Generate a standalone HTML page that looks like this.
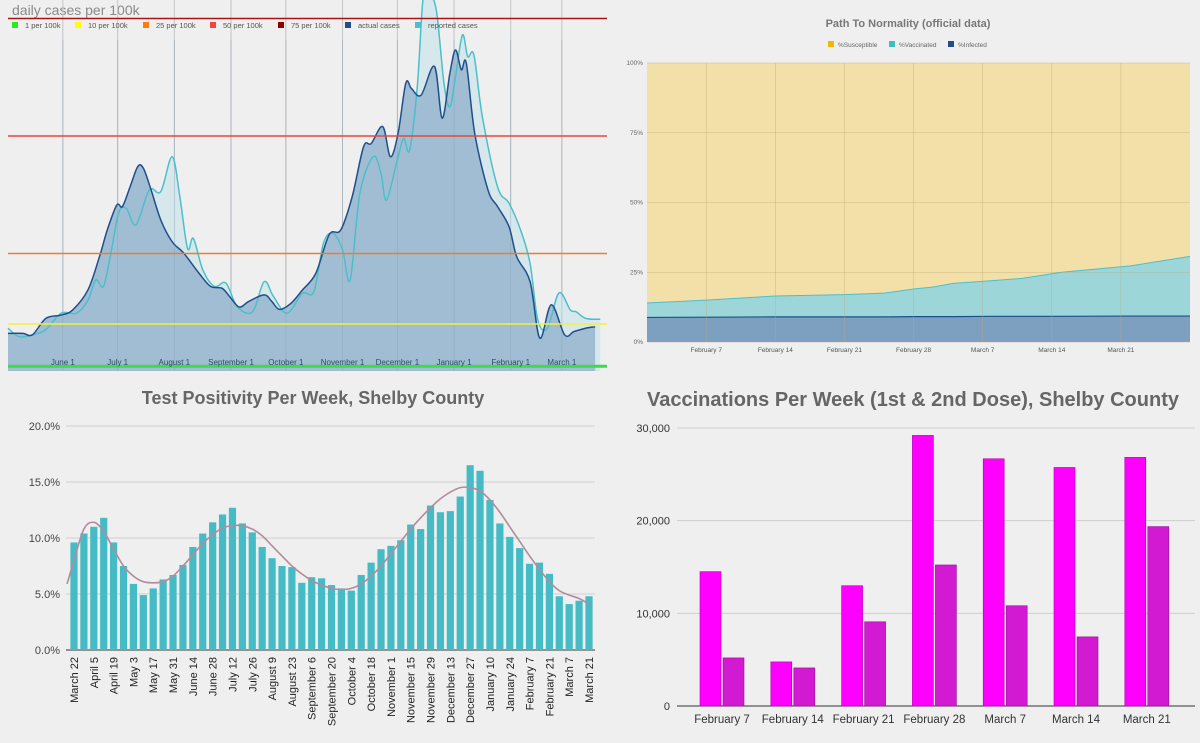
<!DOCTYPE html>
<html><head><meta charset="utf-8"><style>
html,body{margin:0;padding:0;background:#efefef;}
svg{display:block;font-family:"Liberation Sans",Arial,sans-serif;}
</style></head><body>
<svg id="svg" width="1200" height="743" viewBox="0 0 1200 743" xmlns="http://www.w3.org/2000/svg">
<rect x="0" y="0" width="1200" height="743" fill="#efefef"/>
<g id="tl"></g>
<g id="tr"></g>
<g id="bl"></g>
<g id="br"></g>
</svg>
<script>
// ---------- Top-left data ----------
const actualDays = [0,8.2,13.4,20.7,29.1,35.4,43.8,50.1,54.3,59.5,62.6,66.8,71,74.1,78.3,83.6,89.8,96.1,104.5,110.8,117.1,121.3,126.5,131.7,140.1,144.3,148.5,154.8,161,168.4,175.7,182,188.3,194.5,198.7,205,209.2,213.4,217.6,220.7,226,233.3,237.5,241.7,244.8,248,250.7,255.3,262.6,267.8,274.1,278.3,285.6,290.9,297.2,304.5,309.7,316,321.2];
const actualVals = [8,8,7.7,11.2,11.9,13,17.3,24.4,30,35.3,35,39.2,43.5,43.1,38.5,32.1,27.5,25.1,20.8,18,17.6,15.8,13.6,14.8,16.2,14.8,13.1,14.4,17.2,20.8,29,30,37.1,47.7,48.4,52,45.6,50.6,61.2,60.1,58.7,64.8,53.8,63.3,68.3,64.1,65.5,50.6,38.5,35,30.7,24.3,19,7,14.1,7.7,8.4,9.1,9.4];
const reportedDays = [0,6.1,13.4,20.7,29.1,37.5,43.8,48,52.2,56.3,60.5,64.7,70,77.3,83.6,89.8,94,98.2,101.4,106.6,112.9,119.2,125.4,133.8,140.1,145.3,152.7,161,167.3,172.6,177.8,183,187.2,192.5,199.8,204,207.1,213.4,216.5,219.7,223.9,227,230.1,234.3,238.5,241.7,244.8,248.6,251.5,254.9,259.5,267.8,274.1,280.4,285.6,289.8,295.1,301.4,307.6,310.8,316,324];
const reportedVals = [9.1,7.3,7.7,8.8,12.3,12.3,15.1,19.4,18,25.1,33.6,34.6,31.1,38.5,38.2,45.6,37.1,26.1,28.2,21.5,18,18.7,13.7,12.6,19,15.8,12.3,16.5,16.9,27.2,29.3,25.8,19.4,37.8,45.6,42.1,36.4,45.6,49.5,47,60.5,79,80,76.8,61.2,56.2,62.6,71.5,66.9,67.2,54.1,39.2,35.7,30,22.9,10.9,9.1,16.6,13,12.6,11.2,11];
const monthLabels = ["June 1","July 1","August 1","September 1","October 1","November 1","December 1","January 1","February 1","March 1"];
const monthDays = [30,60,91,122,152,183,213,244,275,303];
const thresholdVals = [1,10,25,50,75];
const thresholdColors = ["#3ddc4a","#f2f23a","#f47a2a","#e8463c","#a31515"];
const legendLabels = ["1 per 100k","10 per 100k","25 per 100k","50 per 100k","75 per 100k","actual cases","reported cases"];
const legendColors = ["#22ee22","#ffff00","#ff7b0f","#f0463c","#8b0000","#1f4f8a","#4cbfc9"];

// ---------- Top-right data ----------
const pathDays = [0,6,13,20,24,27,29,31,35,38,42,49,55];
const infectedPct = [8.8,8.9,9.0,9.0,9.0,9.1,9.1,9.1,9.2,9.2,9.2,9.3,9.3];
const vaccinatedPct = [5.2,6.1,7.5,8.0,8.5,9.9,10.6,11.9,12.8,13.6,15.8,18.0,21.4];
const pathTicks = ["0%","25%","50%","75%","100%"];
const pathTickVals = [0,25,50,75,100];
const pathWeekLabels = ["February 7","February 14","February 21","February 28","March 7","March 14","March 21"];
const pathWeekDays = [6,13,20,27,34,41,48];

// ---------- Bottom-left data ----------
const positivity = [9.6,10.4,11.0,11.8,9.6,7.5,5.9,4.9,5.5,6.3,6.7,7.6,9.2,10.4,11.4,12.1,12.7,11.3,10.5,9.2,8.2,7.5,7.4,6.0,6.5,6.4,5.8,5.5,5.3,6.7,7.8,9.0,9.3,9.8,11.2,10.8,12.9,12.3,12.4,13.7,16.5,16.0,13.4,11.3,10.1,9.1,7.7,7.8,6.8,4.8,4.1,4.4,4.8];
const positivityTrend = [8.0,10.8,11.4,10.6,9.0,7.5,6.6,6.1,6.0,6.1,6.6,7.5,8.5,9.5,10.3,10.9,11.1,11.1,10.8,10.2,9.3,8.4,7.5,6.8,6.2,5.8,5.5,5.4,5.5,5.9,6.6,7.5,8.6,9.7,10.8,11.8,12.7,13.5,14.1,14.5,14.5,14.2,13.4,12.3,11.0,9.7,8.4,7.2,6.1,5.3,4.9,4.6,4.1];
const weekLabels = ["March 22","April 5","April 19","May 3","May 17","May 31","June 14","June 28","July 12","July 26","August 9","August 23","September 6","September 20","October 4","October 18","November 1","November 15","November 29","December 13","December 27","January 10","January 24","February 7","February 21","March 7","March 21"];
const posTicks = ["0.0%","5.0%","10.0%","15.0%","20.0%"];
const posTickVals = [0,5,10,15,20];

// ---------- Bottom-right data ----------
const vaxWeeks = ["February 7","February 14","February 21","February 28","March 7","March 14","March 21"];
const dose1 = [14500,4760,12980,29200,26680,25740,26830];
const dose2 = [5190,4110,9090,15220,10820,7460,19360];
const vaxTicks = ["0","10,000","20,000","30,000"];
const vaxTickVals = [0,10000,20000,30000];

const NS = "http://www.w3.org/2000/svg";
function mk(parent, tag, attrs, text){
  const e = document.createElementNS(NS, tag);
  for (const k in attrs) e.setAttribute(k, attrs[k]);
  if (text !== undefined) e.textContent = text;
  parent.appendChild(e);
  return e;
}
function smooth(pts){
  let d = "M"+pts[0][0].toFixed(2)+","+pts[0][1].toFixed(2);
  for (let i=0;i<pts.length-1;i++){
    const p0=pts[Math.max(0,i-1)],p1=pts[i],p2=pts[i+1],p3=pts[Math.min(pts.length-1,i+2)];
    const c1=[p1[0]+(p2[0]-p0[0])/6,p1[1]+(p2[1]-p0[1])/6];
    const c2=[p2[0]-(p3[0]-p1[0])/6,p2[1]-(p3[1]-p1[1])/6];
    d+=" C"+c1[0].toFixed(2)+","+c1[1].toFixed(2)+" "+c2[0].toFixed(2)+","+c2[1].toFixed(2)+" "+p2[0].toFixed(2)+","+p2[1].toFixed(2);
  }
  return d;
}

// ===== Top-left chart =====
(function(){
  const g = document.getElementById('tl');
  const x = d => 8 + d*1.828;
  const y = v => 371 - v*4.7;
  const t = mk(g,'text',{x:12,y:15,'font-size':14,fill:'#8a8a8a'},"daily cases per 100k");
  
  
  for (let i=0;i<monthDays.length;i++){
    const l = mk(g,'line',{x1:x(monthDays[i]),x2:x(monthDays[i]),y1:0,y2:371,stroke:'#c4c4c4','stroke-width':1});
    
    
  }
  const rp = reportedDays.map((d,i)=>[x(d),y(reportedVals[i])]);
  const ap = actualDays.map((d,i)=>[x(d),y(actualVals[i])]);
  const rl = smooth(rp);
  const rf = mk(g,'path',{d:rl+" L"+rp[rp.length-1][0]+","+y(0)+" L"+rp[0][0]+","+y(0)+" Z",fill:'#d6e8eb'});
  
  
  const al = smooth(ap);
  const af = mk(g,'path',{d:al+" L"+ap[ap.length-1][0]+","+y(0)+" L"+ap[0][0]+","+y(0)+" Z",fill:'#a1bdd3'});
  
  
  for (let i=0;i<monthDays.length;i++){
    const l = mk(g,'line',{x1:x(monthDays[i]),x2:x(monthDays[i]),y1:40,y2:371,stroke:'#8fa6b8','stroke-width':0.8,opacity:0.6});
    
    
  }
  const rline = mk(g,'path',{d:rl,fill:'none',stroke:'#4cbfc9','stroke-width':1.5});
  
  
  const aline = mk(g,'path',{d:al,fill:'none',stroke:'#1f4f8a','stroke-width':1.5});
  
  
  for (let i=0;i<thresholdVals.length;i++){
    const l = mk(g,'line',{x1:8,x2:607,y1:y(thresholdVals[i]),y2:y(thresholdVals[i]),stroke:thresholdColors[i],'stroke-width':i===0?3:1.6});
    
    
  }
  for (let i=0;i<monthDays.length;i++){
    const tx = mk(g,'text',{x:x(monthDays[i]),y:365,'font-size':8,fill:'#2f4a66','text-anchor':'middle'},monthLabels[i]);
    
    
  }
  const lx = [12,75,143,210,278,345,415];
  for (let i=0;i<legendLabels.length;i++){
    const r = mk(g,'rect',{x:lx[i],y:22,width:6,height:6,fill:legendColors[i]});
    
    
    const tx = mk(g,'text',{x:lx[i]+13,y:28,'font-size':7.5,fill:'#555'},legendLabels[i]);
    
    
  }
})();

// ===== Top-right chart =====
(function(){
  const g = document.getElementById('tr');
  const x = d => 647 + d*(543/55);
  const y = v => 342 - v*2.79;
  const tt = mk(g,'text',{x:908,y:27,'font-size':11,'font-weight':'bold',fill:'#777','text-anchor':'middle'},"Path To Normality (official data)");
  
  
  const lg = [["%Susceptible","#f2b600",828],["%Vaccinated","#3fbdc5",889],["%Infected","#1f4f8a",948]];
  for (const L of lg){
    const r = mk(g,'rect',{x:L[2],y:41,width:6,height:6,fill:L[1]});
    
    
    const tx = mk(g,'text',{x:L[2]+10,y:47,'font-size':6.5,fill:'#666'},L[0]);
    
    
  }
  const bg = mk(g,'rect',{x:x(0),y:y(100),width:x(55)-x(0),height:y(0)-y(100),fill:'#f3dfa8'});
  
  
  const totals = pathDays.map((d,i)=>[x(d),y(infectedPct[i]+vaccinatedPct[i])]);
  const infs = pathDays.map((d,i)=>[x(d),y(infectedPct[i])]);
  const lin = p => p.map((q,i)=>(i?"L":"M")+q[0].toFixed(2)+","+q[1].toFixed(2)).join(" ");
  const va = mk(g,'path',{d:lin(totals)+" L"+x(55)+","+y(0)+" L"+x(0)+","+y(0)+" Z",fill:'#9dd6d8'});
  
  
  const vl = mk(g,'path',{d:lin(totals),fill:'none',stroke:'#4cbfc9','stroke-width':1});
  
  
  const ia = mk(g,'path',{d:lin(infs)+" L"+x(55)+","+y(0)+" L"+x(0)+","+y(0)+" Z",fill:'#7da0c1'});
  
  
  const il = mk(g,'path',{d:lin(infs),fill:'none',stroke:'#1f4f8a','stroke-width':1.2});
  
  
  for (let i=0;i<pathTickVals.length;i++){
    const l = mk(g,'line',{x1:x(0),x2:x(55),y1:y(pathTickVals[i]),y2:y(pathTickVals[i]),stroke:'#b9a97e','stroke-width':0.6,opacity:0.7});
    
    
    const tx = mk(g,'text',{x:643,y:y(pathTickVals[i])+2,'font-size':6.5,fill:'#666','text-anchor':'end'},pathTicks[i]);
    
    
  }
  for (let i=0;i<pathWeekDays.length;i++){
    const l = mk(g,'line',{x1:x(pathWeekDays[i]),x2:x(pathWeekDays[i]),y1:y(100),y2:y(0),stroke:'#b9a97e','stroke-width':0.6,opacity:0.6});
    
    
    const tx = mk(g,'text',{x:x(pathWeekDays[i]),y:352,'font-size':6.5,fill:'#555','text-anchor':'middle'},pathWeekLabels[i]);
    
    
  }
})();

// ===== Bottom-left chart =====
(function(){
  const g = document.getElementById('bl');
  const x = i => 74 + i*(515/52);
  const y = v => 650 - v*11.2;
  const tt = mk(g,'text',{x:313,y:404,'font-size':18,'font-weight':'bold',fill:'#666','text-anchor':'middle'},"Test Positivity Per Week, Shelby County");
  
  
  for (let i=0;i<posTickVals.length;i++){
    const l = mk(g,'line',{x1:66,x2:595,y1:y(posTickVals[i]),y2:y(posTickVals[i]),stroke:i===0?'#333':'#cfcfcf','stroke-width':1});
    
    
    const tx = mk(g,'text',{x:60,y:y(posTickVals[i])+4,'font-size':11,fill:'#444','text-anchor':'end'},posTicks[i]);
    
    
  }
  for (let i=0;i<positivity.length;i++){
    const r = mk(g,'rect',{x:x(i)-3.6,y:y(positivity[i]),width:7.2,height:y(0)-y(positivity[i]),fill:'#45bcc5'});
    
    
  }
  const tp = positivityTrend.map((v,i)=>[x(i),y(v)]);
  tp.unshift([x(-0.7),y(5.9)]);
  const tl = mk(g,'path',{d:smooth(tp),fill:'none',stroke:'#b28b9d','stroke-width':1.6});
  
  
  for (let i=0;i<weekLabels.length;i++){
    const cx = x(i*2)+4;
    const tx = mk(g,'text',{x:cx,y:657,'font-size':11,fill:'#222','text-anchor':'end',transform:'rotate(-90 '+cx+' 657)'},weekLabels[i]);
    
    
  }
})();

// ===== Bottom-right chart =====
(function(){
  const g = document.getElementById('br');
  const cx = i => 722 + i*70.8;
  const y = v => 706 - v*(278/30000);
  const tt = mk(g,'text',{x:913,y:406,'font-size':20,'font-weight':'bold',fill:'#666','text-anchor':'middle'},"Vaccinations Per Week (1st & 2nd Dose), Shelby County");
  
  
  for (let i=0;i<vaxTickVals.length;i++){
    const l = mk(g,'line',{x1:677,x2:1195,y1:y(vaxTickVals[i]),y2:y(vaxTickVals[i]),stroke:i===0?'#333':'#cfcfcf','stroke-width':1});
    
    
    const tx = mk(g,'text',{x:670,y:y(vaxTickVals[i])+4,'font-size':11,fill:'#333','text-anchor':'end'},vaxTicks[i]);
    
    
  }
  for (let i=0;i<vaxWeeks.length;i++){
    const r1 = mk(g,'rect',{x:cx(i)-22,y:y(dose1[i]),width:21,height:y(0)-y(dose1[i]),fill:'#ff00ff',stroke:'#b000b0','stroke-width':0.6});
    
    
    const r2 = mk(g,'rect',{x:cx(i)+1,y:y(dose2[i]),width:21,height:y(0)-y(dose2[i]),fill:'#d11ad1',stroke:'#9a109a','stroke-width':0.6});
    
    
    const tx = mk(g,'text',{x:cx(i),y:723,'font-size':11.5,fill:'#333','text-anchor':'middle'},vaxWeeks[i]);
    
    
  }
})();
</script>
</body></html>
